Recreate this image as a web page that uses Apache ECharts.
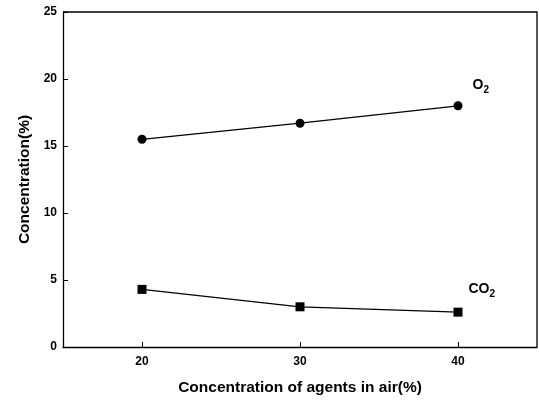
<!DOCTYPE html>
<html>
<head>
<meta charset="utf-8">
<script src="https://cdn.jsdelivr.net/npm/echarts@6/dist/echarts.min.js"></script>
<style>
  html, body { margin: 0; padding: 0; background: #fff; }
  #chart { width: 539px; height: 404px; }
</style>
</head>
<body>
<div id="chart"></div>
<script>
// concentration of agents in air (%)
const agentConc = [20, 30, 40]
const o2Values = [15.5, 16.7, 18.0]
const co2Values = [4.3, 3.0, 2.6]
const yTicks = [0, 5, 10, 15, 20, 25]
const xTicks = [20, 30, 40]

const font = '"Liberation Sans", Arial, sans-serif'

const chart = echarts.init(document.getElementById('chart'))

function toPairs(vals) {
  return agentConc.map((x, i) => [x, vals[i]])
}

function endLabel(text, sub, dx, dy) {
  return {
    show: true,
    formatter: () => '{m|' + text + '}{s|' + sub + '}',
    offset: [dx, dy],
    position: 'right',
    rich: {
      m: { fontFamily: font, fontWeight: 'bold', fontSize: 14, color: '#000' },
      s: { fontFamily: font, fontWeight: 'bold', fontSize: 10, color: '#000', padding: [10, 0, 0, 0] }
    }
  }
}

function series(name, vals, symbol, label) {
  const data = toPairs(vals)
  const last = data.length - 1
  return {
    name,
    type: 'line',
    data: data.map((d, i) => i === last ? { value: d, label } : d),
    symbol,
    symbolSize: 9,
    lineStyle: { color: '#000', width: 1.3 },
    itemStyle: { color: '#000' },
    label: { show: false },
    animation: false
  }
}

const titleStyle = { fontFamily: font, fontWeight: 'bold', fontSize: 15.5, color: '#000' }
const tickFont = { fontFamily: font, fontWeight: 'bold', fontSize: 12, color: '#000' }

chart.setOption({
  backgroundColor: '#fff',
  grid: { left: 63, right: 2, top: 12, bottom: 57 },
  xAxis: {
    type: 'value',
    min: 15,
    max: 45,
    interval: 5,
    name: 'Concentration of agents in air(%)',
    nameLocation: 'middle',
    nameGap: 33,
    nameTextStyle: titleStyle,
    axisLine: { show: true, lineStyle: { color: '#000', width: 1.3 } },
    axisTick: { show: true, inside: true, length: 5, customValues: xTicks, lineStyle: { color: '#000' } },
    axisLabel: Object.assign({ margin: 9, customValues: xTicks }, tickFont),
    splitLine: { show: false }
  },
  yAxis: {
    type: 'value',
    min: 0,
    max: 25,
    interval: 5,
    name: 'Concentration(%)',
    nameLocation: 'middle',
    nameGap: 30,
    nameTextStyle: titleStyle,
    axisLine: { show: true, lineStyle: { color: '#000', width: 1.3 } },
    axisTick: { show: true, inside: true, length: 5, lineStyle: { color: '#000' } },
    axisLabel: Object.assign({ margin: 6, customValues: yTicks }, tickFont),
    splitLine: { show: false }
  },
  series: [
    series('O2', o2Values, 'circle', endLabel('O', '2', 5, -21)),
    series('CO2', co2Values, 'rect', endLabel('CO', '2', 1, -23))
  ],
  graphic: [
    // frame on top and right sides
    {
      type: 'polyline',
      shape: { points: [[63, 12], [537, 12], [537, 347]] },
      style: { stroke: '#000', lineWidth: 1.3, fill: null },
      silent: true
    }
  ]
})
</script>
</body>
</html>
